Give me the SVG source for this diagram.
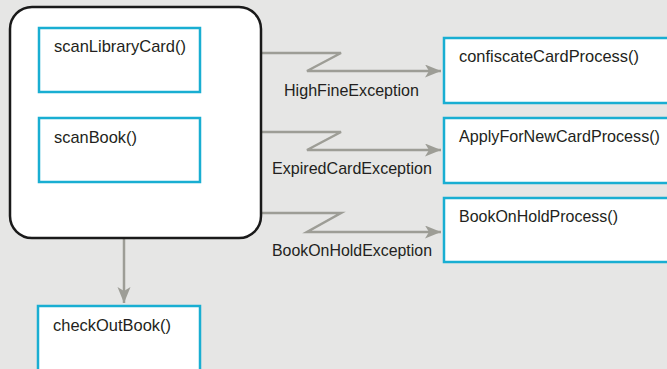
<svg xmlns="http://www.w3.org/2000/svg" width="667" height="369" viewBox="0 0 667 369">
<defs>
<style>
.bg{fill:#e6e6e5}
.box{fill:#fff;stroke:#19aed2;stroke-width:2.5}
.outer{fill:#fff;stroke:#1a1a1a;stroke-width:2.5}
.t{font-family:"Liberation Sans",Arial,sans-serif;font-size:17px;fill:#231f20}
.c{fill:none;stroke:#9d9d96;stroke-width:2.5;stroke-linejoin:miter}
</style>
<marker id="ah" markerUnits="userSpaceOnUse" markerWidth="18" markerHeight="14" refX="16" refY="6.5" orient="auto">
<path d="M0,0 L16,6.5 L0,13 L4,6.5 z" fill="#9d9d96"/>
</marker>
</defs>
<rect class="bg" x="0" y="0" width="667" height="369"/>
<g id="connectors">
<polyline class="c" points="262,53 341,53 307,71 441,71" marker-end="url(#ah)"/>
<polyline class="c" points="262,132 341,132 307,150 441,150" marker-end="url(#ah)"/>
<polyline class="c" points="262,213 341,213 307,232 441,232" marker-end="url(#ah)"/>
<line class="c" x1="124" y1="238" x2="124" y2="303" marker-end="url(#ah)"/>
<text class="t" x="284" y="96" textLength="135" lengthAdjust="spacingAndGlyphs">HighFineException</text>
<text class="t" x="272" y="174" textLength="160" lengthAdjust="spacingAndGlyphs">ExpiredCardException</text>
<text class="t" x="272" y="256" textLength="160" lengthAdjust="spacingAndGlyphs">BookOnHoldException</text>
</g>
<g id="container">
<rect class="outer" x="10" y="7" width="251" height="231" rx="22" ry="22"/>
</g>
<g id="scanLibraryCard">
<rect class="box" x="39" y="28" width="161" height="64"/>
<text class="t" x="54" y="52" textLength="132" lengthAdjust="spacingAndGlyphs">scanLibraryCard()</text>
</g>
<g id="scanBook">
<rect class="box" x="39" y="118" width="161" height="64"/>
<text class="t" x="54" y="143" textLength="83" lengthAdjust="spacingAndGlyphs">scanBook()</text>
</g>
<g id="checkOutBook">
<rect class="box" x="38" y="306" width="162" height="80"/>
<text class="t" x="53" y="331" textLength="118" lengthAdjust="spacingAndGlyphs">checkOutBook()</text>
</g>
<g id="confiscateCardProcess">
<rect class="box" x="444" y="38" width="240" height="65"/>
<text class="t" x="459" y="62" textLength="180" lengthAdjust="spacingAndGlyphs">confiscateCardProcess()</text>
</g>
<g id="ApplyForNewCardProcess">
<rect class="box" x="444" y="118" width="240" height="65"/>
<text class="t" x="459" y="142" textLength="201" lengthAdjust="spacingAndGlyphs">ApplyForNewCardProcess()</text>
</g>
<g id="BookOnHoldProcess">
<rect class="box" x="444" y="198" width="240" height="64"/>
<text class="t" x="459" y="222" textLength="159" lengthAdjust="spacingAndGlyphs">BookOnHoldProcess()</text>
</g>
</svg>
